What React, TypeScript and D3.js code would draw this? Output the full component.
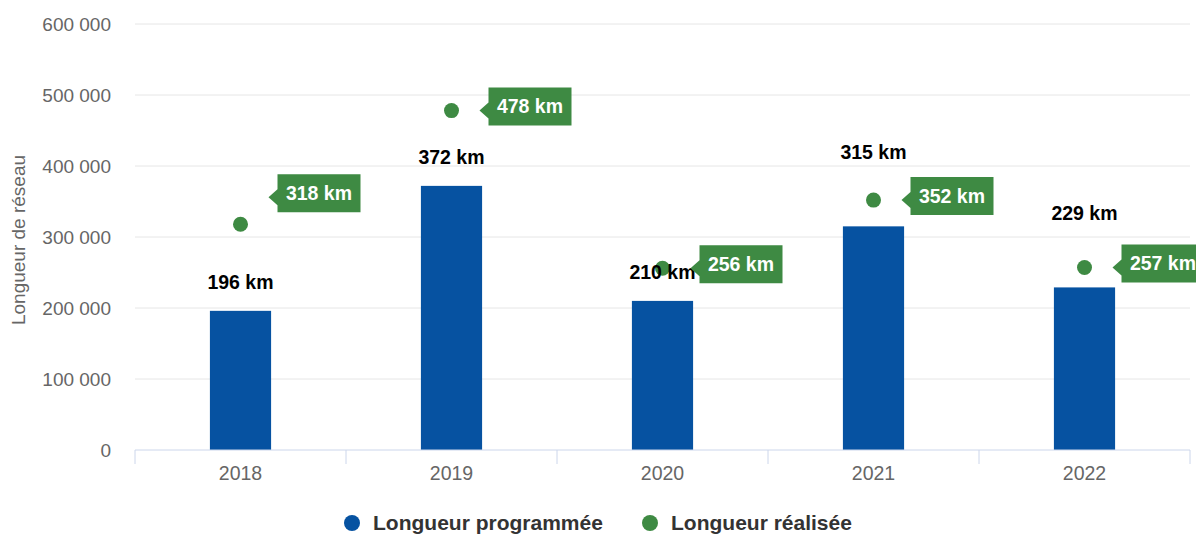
import React from "react";
import * as d3 from "d3";

const years = ["2018", "2019", "2020", "2021", "2022"];
const programmed = [196000, 372000, 210000, 315000, 229000];
const realised = [318000, 478000, 256000, 352000, 257000];
const yTicks = [0, 100000, 200000, 300000, 400000, 500000, 600000];

// label placement tweaks (styling, not data)
const barLabelLift = [29, 29, 29, 74, 74];
const calloutShift = [-27, 0, 0, 0, 0];

const W = 1196;
const H = 536;
const left = 135;
const right = 1190;
const top = 24;
const bottom = 450;

const BLUE = "#0652a1";
const GREEN = "#3e8a43";
const FONT = "'Liberation Sans', Arial, Helvetica, sans-serif";

const fmt = (v: number) => d3.format(",")(v).replace(/,/g, " ");
const km = (v: number) => `${Math.round(v / 1000)} km`;

export default function App() {
  const x = d3.scaleBand<string>().domain(years).range([left, right]).padding(0);
  const y = d3.scaleLinear().domain([0, 600000]).range([bottom, top]);
  const bw = x.bandwidth() * 0.29;
  const boundaries = [...years.map((d) => x(d) as number), right];

  return (
    <svg
      width={W}
      height={H}
      style={{ position: "absolute", left: 0, top: 0, background: "#fff" }}
      fontFamily={FONT}
    >
      {/* grid */}
      {yTicks.slice(1).map((t) => (
        <line key={t} x1={left} x2={right} y1={y(t)} y2={y(t)} stroke="#e6e6e6" strokeWidth={1} />
      ))}
      {/* y labels */}
      {yTicks.map((t) => (
        <text key={t} x={111} y={y(t)} dy="0.35em" textAnchor="end" fontSize={19} fill="#666">
          {fmt(t)}
        </text>
      ))}
      <text
        transform={`translate(18,${(top + bottom) / 2 + 3}) rotate(-90)`}
        textAnchor="middle"
        dy="0.35em"
        fontSize={19}
        fill="#666"
      >
        Longueur de réseau
      </text>
      {/* bars */}
      {years.map((d, i) => {
        const cx = (x(d) as number) + x.bandwidth() / 2;
        return (
          <rect key={d} x={cx - bw / 2} y={y(programmed[i])} width={bw} height={bottom - y(programmed[i])} fill={BLUE} />
        );
      })}
      {/* x axis */}
      <line x1={left} x2={right} y1={bottom} y2={bottom} stroke="#ccd6eb" strokeWidth={1} />
      {boundaries.map((b, i) => (
        <line key={i} x1={b} x2={b} y1={bottom} y2={bottom + 14} stroke="#ccd6eb" strokeWidth={1} />
      ))}
      {years.map((d) => (
        <text key={d} x={(x(d) as number) + x.bandwidth() / 2} y={473} dy="0.35em" textAnchor="middle" fontSize={19.5} fill="#666">
          {d}
        </text>
      ))}
      {/* scatter points */}
      {years.map((d, i) => {
        const cx = (x(d) as number) + x.bandwidth() / 2;
        return <circle key={d} cx={cx} cy={y(realised[i])} r={7.5} fill={GREEN} />;
      })}
      {/* bar labels */}
      {years.map((d, i) => {
        const cx = (x(d) as number) + x.bandwidth() / 2;
        return (
          <text key={d} x={cx} y={y(programmed[i]) - barLabelLift[i]} dy="0.35em" textAnchor="middle" fontSize={19.5} fontWeight="bold" fill="#000">
            {km(programmed[i])}
          </text>
        );
      })}
      {/* callouts */}
      {years.map((d, i) => {
        const px = (x(d) as number) + x.bandwidth() / 2;
        const ay = y(realised[i]) + calloutShift[i];
        const bx = px + 37;
        const bwid = 83;
        const bh = 38;
        const cy = ay - 4;
        const by = cy - bh / 2;
        const path = `M${bx},${by} H${bx + bwid} V${by + bh} H${bx} V${ay + 8} L${px + 28},${ay} L${bx},${ay - 8} Z`;
        return (
          <g key={d}>
            <path d={path} fill={GREEN} />
            <text x={bx + bwid / 2} y={cy} dy="0.35em" textAnchor="middle" fontSize={19.5} fontWeight="bold" fill="#fff">
              {km(realised[i])}
            </text>
          </g>
        );
      })}
      {/* legend */}
      <circle cx={352} cy={523} r={8} fill={BLUE} />
      <text x={373} y={523} dy="0.35em" fontSize={21} fontWeight="bold" fill="#333">
        Longueur programmée
      </text>
      <circle cx={650} cy={523} r={8} fill={GREEN} />
      <text x={671} y={523} dy="0.35em" fontSize={21} fontWeight="bold" fill="#333">
        Longueur réalisée
      </text>
    </svg>
  );
}
